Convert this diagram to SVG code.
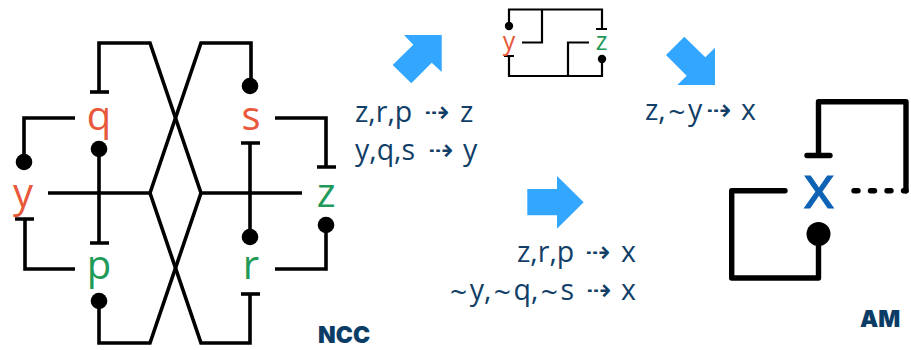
<svg xmlns="http://www.w3.org/2000/svg" width="911" height="350" viewBox="0 0 911 350">
<style>
text{font-family:"Open Sans","Noto Sans","DejaVu Sans",sans-serif}
.w{fill:none;stroke:#000;stroke-width:3.6;stroke-linejoin:miter}
.s{fill:none;stroke:#000;stroke-width:2.2}
.a{fill:none;stroke:#000;stroke-width:5.4;stroke-linejoin:round;stroke-linecap:round}
.o{fill:#e8583a}.g{fill:#1f9a58}
.big{font-size:40px;text-anchor:middle}
.sm{font-size:25px;text-anchor:middle}
.t{font-size:28.500px;fill:#123f68}
.ar{font-size:30px;font-family:"DejaVu Sans",sans-serif}
.tl{font-size:30px}
.lb{font-size:23px;font-weight:900;fill:#0b3c66;font-family:Inter,"Open Sans",sans-serif}
.bl{fill:#33a6ff}
</style>
<rect width="911" height="350" fill="#fff"/>
<g id="connectors">
<g id="ncc-wires">
<path class="w" d="M99 92V43H150L201 193H302"/>
<path class="w" d="M90 92H109"/>
<path class="w" d="M251 86V43H201L150 193H48"/>
<path class="w" d="M99 301V343H150L201 193"/>
<path class="w" d="M250 294V343H201L150 193"/>
<path class="w" d="M241 294H260"/>
<path class="w" d="M99 149V243M90 243H109"/>
<path class="w" d="M250 237V143M241 143H260"/>
<path class="w" d="M75 118H24V162"/>
<path class="w" d="M15 219H34M25 219V269H75"/>
<path class="w" d="M275 118H326V167M317 167H336"/>
<path class="w" d="M326 225V269H275"/>
<circle cx="250" cy="86" r="8.300"/><circle cx="99" cy="149" r="8.300"/>
<circle cx="24" cy="162" r="8.300"/><circle cx="250" cy="237" r="8.300"/>
<circle cx="326" cy="225" r="8.300"/><circle cx="99" cy="301" r="8.300"/>
</g>
<g id="small-wires">
<path class="s" d="M509 26V9.500H602V29M596 29H607"/>
<path class="s" d="M542 9.500V42.500H522"/>
<path class="s" d="M504 56H514M509 56V76H602V59"/>
<path class="s" d="M568 76V42.500H589"/>
<circle cx="509" cy="26" r="4.200"/><circle cx="602" cy="59" r="4.200"/>
</g>
<g id="am-wires">
<path class="a" d="M906 190.700V101.700H818.500V155.500M807 155.500H830"/>
<path class="a" d="M854 190.700H906" stroke-dasharray="4 12.500"/>
<path class="a" d="M785 190.700H731.700V278H818.500V234"/>
<circle cx="818.500" cy="234" r="12"/>
</g>
</g>
<g id="node-q"><text class="big o" x="99" y="130">q</text></g>
<g id="node-s"><text class="big o" x="251" y="130">s</text></g>
<g id="node-y"><text class="big o" x="23" y="207">y</text></g>
<g id="node-z"><text class="big g" x="326" y="207">z</text></g>
<g id="node-p"><text class="big g" x="99" y="279">p</text></g>
<g id="node-r"><text class="big g" x="251" y="279">r</text></g>
<g id="node-small-y"><text class="sm o" x="509" y="50">y</text></g>
<g id="node-small-z"><text class="sm g" x="601.500" y="50">z</text></g>
<g id="node-x"><text x="819" y="208" font-size="60" text-anchor="middle" fill="#0d62b5" stroke="#0d62b5" stroke-width="0.900">x</text></g>
<g id="arrow-up"><polygon class="bl" points="441.700,35 441.700,72 431.700,62.700 411.300,83.300 392.700,65 413.300,44.700 404,35"/></g>
<g id="arrow-down"><polygon class="bl" points="715,85 677.300,85 686.700,75.700 666,55 684.300,36.700 705.300,57.300 715,47.700"/></g>
<g id="arrow-right"><polygon class="bl" points="527.300,189 557,189 557,176 583.700,202.300 557,228.700 557,215.300 527.300,215.300"/></g>
<g id="rule-1"><text class="t" x="355" y="122">z,r,p<tspan class="ar" x="424" y="122">⇢</tspan><tspan x="460" y="122">z</tspan></text></g>
<g id="rule-2"><text class="t" x="355" y="160">y,q,s<tspan class="ar" x="428" y="160">⇢</tspan><tspan x="463" y="160">y</tspan></text></g>
<g id="rule-3"><text class="t" x="645" y="120">z,<tspan class="tl" y="122.500" dx="2.500">~</tspan><tspan y="120" dx="2.500">y</tspan><tspan class="ar" x="706" y="120">⇢</tspan><tspan x="741" y="120">x</tspan></text></g>
<g id="rule-4"><text class="t" x="517" y="262">z,r,p<tspan class="ar" x="585" y="262">⇢</tspan><tspan x="621" y="262">x</tspan></text></g>
<g id="rule-5"><text class="t" x="450" y="300"><tspan class="tl" y="302.500">~</tspan><tspan y="300" dx="2.500">y,</tspan><tspan class="tl" y="302.500" dx="2.500">~</tspan><tspan y="300" dx="2.500">q,</tspan><tspan class="tl" y="302.500" dx="2.500">~</tspan><tspan y="300" dx="2.500">s</tspan><tspan class="ar" x="586" y="300">⇢</tspan><tspan x="621" y="300">x</tspan></text></g>
<g id="label-ncc"><text class="lb" x="318" y="343">NCC</text></g>
<g id="label-am"><text class="lb" x="860" y="327">AM</text></g>
</svg>
